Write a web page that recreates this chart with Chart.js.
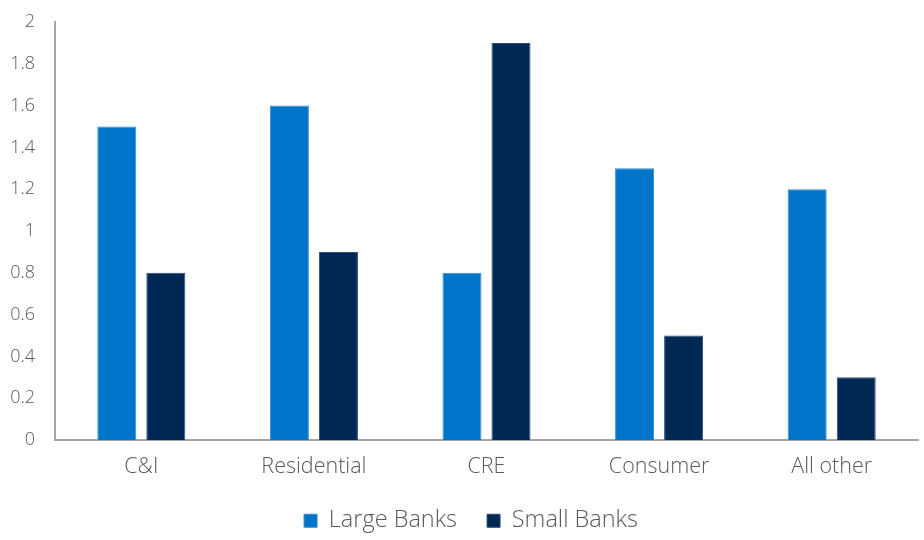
<!DOCTYPE html>
<html><head><meta charset="utf-8">
<script src="https://cdn.jsdelivr.net/npm/chart.js@4/dist/chart.umd.min.js"></script>
<style>html,body{margin:0;padding:0;background:#fff}#wrap{width:924px;height:540px}</style>
</head><body><div id="wrap"><canvas id="c" width="924" height="540"></canvas></div>
<script>
const categories = ["C&I", "Residential", "CRE", "Consumer", "All other"];
const largeBanks = [1.5, 1.6, 0.8, 1.3, 1.2];
const smallBanks = [0.8, 0.9, 1.9, 0.5, 0.3];
const seriesNames = ["Large Banks", "Small Banks"];
const yTicks = [0, 0.2, 0.4, 0.6, 0.8, 1, 1.2, 1.4, 1.6, 1.8, 2];

const txt = '#595959';
const fontFam = "'Open Sans', Lato, sans-serif";
const legendFit = {
  id: 'legendFit',
  beforeLayout(chart) {
    const lg = chart.legend;
    if (lg && !lg._patched) {
      const f = lg.fit;
      lg.fit = function () { f.call(this); this.height = 62; };
      lg._patched = true;
    }
  },
  afterLayout(chart) {
    const lg = chart.legend;
    if (lg) { lg.left += 12; lg.right += 12; lg.top += 2; lg.bottom += 2; }
  }
};
new Chart(document.getElementById('c'), {
  type: 'bar',
  data: {
    labels: categories,
    datasets: [
      {label: seriesNames[0], data: largeBanks, backgroundColor: '#0074C8', borderColor: '#2f8ad3', borderWidth: 1},
      {label: seriesNames[1], data: smallBanks, backgroundColor: '#002855', borderColor: '#2d4a70', borderWidth: 1}
    ]
  },
  plugins: [legendFit],
  options: {
    responsive: false, animation: false,
    layout: {padding: {top: 22, right: 6, left: 0, bottom: 1}},
    datasets: {bar: {categoryPercentage: 0.568, barPercentage: 0.796}},
    plugins: {
      tooltip: {enabled: false},
      legend: {
        position: 'bottom',
        labels: {boxWidth: 13, boxHeight: 13, color: txt, font: {family: fontFam, size: 23.5, weight: 300}, padding: 30}
      }
    },
    scales: {
      x: {
        grid: {display: false, drawTicks: false},
        border: {display: true, color: '#a6a6a6', width: 2},
        ticks: {color: txt, font: {family: fontFam, size: 21.5, weight: 300}, padding: 14},
        afterFit: s => { s.height = 37; s.paddingLeft = 0; s.paddingRight = 0; }
      },
      y: {
        min: 0, max: 2,
        grid: {display: false, drawTicks: false},
        border: {display: true, color: '#a6a6a6', width: 2},
        afterBuildTicks: s => { s.ticks = yTicks.map(v => ({value: v})); },
        ticks: {color: txt, font: {family: fontFam, size: 18, weight: 300}, padding: 20,
                callback: v => String(Math.round(v * 10) / 10)},
        afterFit: s => { s.width = 55; s.paddingTop = 0; s.paddingBottom = 0; }
      }
    }
  }
});
</script></body></html>
